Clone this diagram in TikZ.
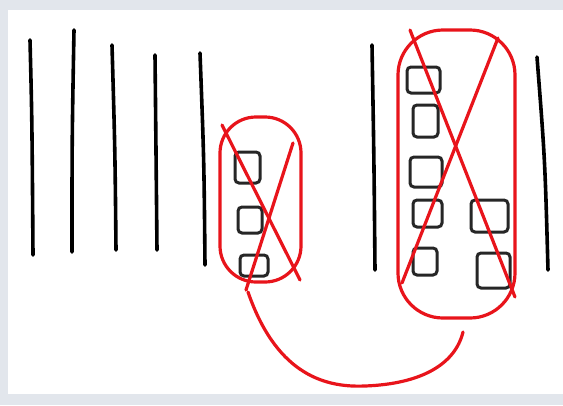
\documentclass[tikz,border=0pt]{standalone}
\usetikzlibrary{calc}
\definecolor{paperframe}{HTML}{E2E6EC}
\definecolor{penred}{HTML}{E8141B}
\begin{document}
\begin{tikzpicture}[x=1pt,y=-1pt,
    blackline/.style={line width=3.6pt, line cap=round, black},
    redline/.style={line width=3.2pt, line cap=round, penred},
    box/.style={line width=3pt, rounded corners=4pt, black!85}]
    % paper and frame
    \fill[paperframe] (0,0) rectangle (563,405);
    \fill[white] (8,10) rectangle (563,394);
    \useasboundingbox (0,0) rectangle (563,405);
    % vertical lines
    \draw[blackline] (30,40) .. controls (32,120) .. (33,255);
    \draw[blackline] (74,30) .. controls (72,140) .. (72,252);
    \draw[blackline] (112,45) .. controls (115,150) .. (116,250);
    \draw[blackline] (155,55) .. controls (156,150) .. (157,250);
    \draw[blackline] (200,53) .. controls (204,160) .. (205,265);
    \draw[blackline] (372,45) .. controls (374,160) .. (375,270);
    \draw[blackline] (537,57) .. controls (545,160) .. (548,270);
    % small group
    \draw[box] (235,152) rectangle (260,183);
    \draw[box] (238,207) rectangle (262,233);
    \draw[box] (240,255) rectangle (268,276);
    \draw[redline, rounded corners=36pt] (220,117) rectangle (301,282);
    \draw[redline] (222,125) -- (300,280);
    \draw[redline] (293,143) -- (246,290);
    % big group
    \draw[box] (407,67) rectangle (440,93);
    \draw[box] (413,105) rectangle (438,137);
    \draw[box] (410,157) rectangle (442,187);
    \draw[box] (413,200) rectangle (442,227);
    \draw[box] (413,248) rectangle (437,275);
    \draw[box] (471,200) rectangle (508,232);
    \draw[box] (477,253) rectangle (510,288);
    \draw[redline, rounded corners=45pt] (398,30) rectangle (515,318);
    \draw[redline] (410,30) -- (515,297);
    \draw[redline] (498,38) -- (402,283);
    % connecting curve
    \draw[redline] (248,292) .. controls (275,370) and (320,388) .. (365,386)
        .. controls (420,384) and (455,365) .. (463,332);
\end{tikzpicture}
\end{document}
